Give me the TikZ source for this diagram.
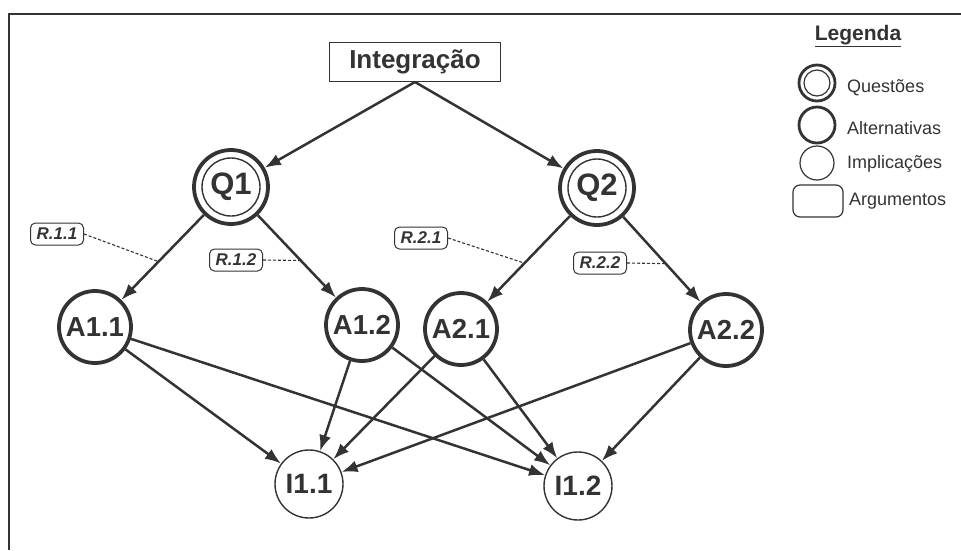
\documentclass[tikz,border=0pt]{standalone}
\usepackage{fontspec}
\setmainfont{Liberation Sans}
\usetikzlibrary{arrows.meta}
\definecolor{ink}{HTML}{333333}
\begin{document}
\begin{tikzpicture}[x=1pt,y=-1pt,
  qnode/.style={circle,draw=ink,line width=3.8pt,minimum size=74pt,inner sep=0pt,font=\fontsize{31}{31}\selectfont\bfseries,text=ink},
  anode/.style={circle,draw=ink,line width=3.8pt,minimum size=72pt,inner sep=0pt,font=\fontsize{27.5}{27.5}\selectfont\bfseries,text=ink},
  inode/.style={circle,draw=ink,line width=1.4pt,minimum size=68pt,inner sep=0pt,font=\fontsize{28}{28}\selectfont\bfseries,text=ink},
  rlabel/.style={rounded corners=5pt,draw=ink,line width=1pt,minimum width=53pt,minimum height=22pt,inner sep=1pt,font=\fontsize{17}{17}\selectfont\bfseries\itshape,text=ink},
  edge/.style={draw=ink,line width=2.5pt,-{Latex[length=16pt,width=12pt]}},
  rdash/.style={draw=ink,line width=1.1pt,dash pattern=on 3pt off 2pt},
  legtext/.style={anchor=west,font=\fontsize{18}{18}\selectfont,text=ink,inner sep=0pt}]
\useasboundingbox (0,0) rectangle (961,550);
\draw[ink,line width=1.8pt] (9,550) -- (9,14) -- (961,14);
% nodes
\node[draw=ink,line width=1pt,minimum width=171pt,minimum height=39pt,inner sep=0pt,font=\fontsize{26}{26}\selectfont\bfseries,text=ink] (int) at (415,62) {Integração};
\node[qnode] (Q1) at (231,187) {Q1};
\node[qnode] (Q2) at (597,188) {Q2};
\draw[ink,line width=1.4pt] (Q1.center) circle (29);
\draw[ink,line width=1.4pt] (Q2.center) circle (29);
\node[anode] (A11) at (95,327) {A1.1};
\node[anode] (A12) at (362,325) {A1.2};
\node[anode] (A21) at (461,329) {A2.1};
\node[anode] (A22) at (726,330) {A2.2};
\node[inode] (I11) at (309,484) {I1.1};
\node[inode] (I12) at (578,486) {I1.2};
% edges
\draw[edge] (int.south) -- (Q1);
\draw[edge] (int.south) -- (Q2);
\draw[edge] (Q1) -- (A11) coordinate[pos=0.55] (m11);
\draw[edge] (Q1) -- (A12) coordinate[pos=0.55] (m12);
\draw[edge] (Q2) -- (A21) coordinate[pos=0.55] (m21);
\draw[edge] (Q2) -- (A22) coordinate[pos=0.55] (m22);
\draw[edge] (A11) -- (I11);
\draw[edge] (A11) -- (I12);
\draw[edge] (A12) -- (I11);
\draw[edge] (A12) -- (I12);
\draw[edge] (A21) -- (I11);
\draw[edge] (A21) -- (I12);
\draw[edge] (A22) -- (I11);
\draw[edge] (A22) -- (I12);
% argument labels
\node[rlabel] (R11) at (57,234) {R.1.1};
\node[rlabel] (R12) at (236,260) {R.1.2};
\node[rlabel] (R21) at (421,238) {R.2.1};
\node[rlabel] (R22) at (600,263) {R.2.2};
\draw[rdash] (R11.east) -- (m11);
\draw[rdash] (R12.east) -- (m12);
\draw[rdash] (R21.east) -- (m21);
\draw[rdash] (R22.east) -- (m22);
% legend
\node[font=\fontsize{21}{21}\selectfont\bfseries,text=ink] (leg) at (858,36) {\underline{Legenda}};
\node[circle,draw=ink,line width=2.8pt,minimum size=36pt,inner sep=0pt] (lq) at (817,83) {};
\draw[ink,line width=1.2pt] (lq.center) circle (13);
\node[circle,draw=ink,line width=2.8pt,minimum size=36pt,inner sep=0pt] (la) at (817,125) {};
\node[circle,draw=ink,line width=1.2pt,minimum size=34pt,inner sep=0pt] (li) at (817,163) {};
\node[rounded corners=7pt,draw=ink,line width=1.2pt,minimum width=50pt,minimum height=32pt,inner sep=0pt] (lr) at (818,201) {};
\node[legtext] (tq) at (847,88) {Questões};
\node[legtext] (ta) at (847,128) {Alternativas};
\node[legtext] (ti) at (847,164) {Implicações};
\node[legtext] (tr) at (849,201) {Argumentos};
\end{tikzpicture}
\end{document}
